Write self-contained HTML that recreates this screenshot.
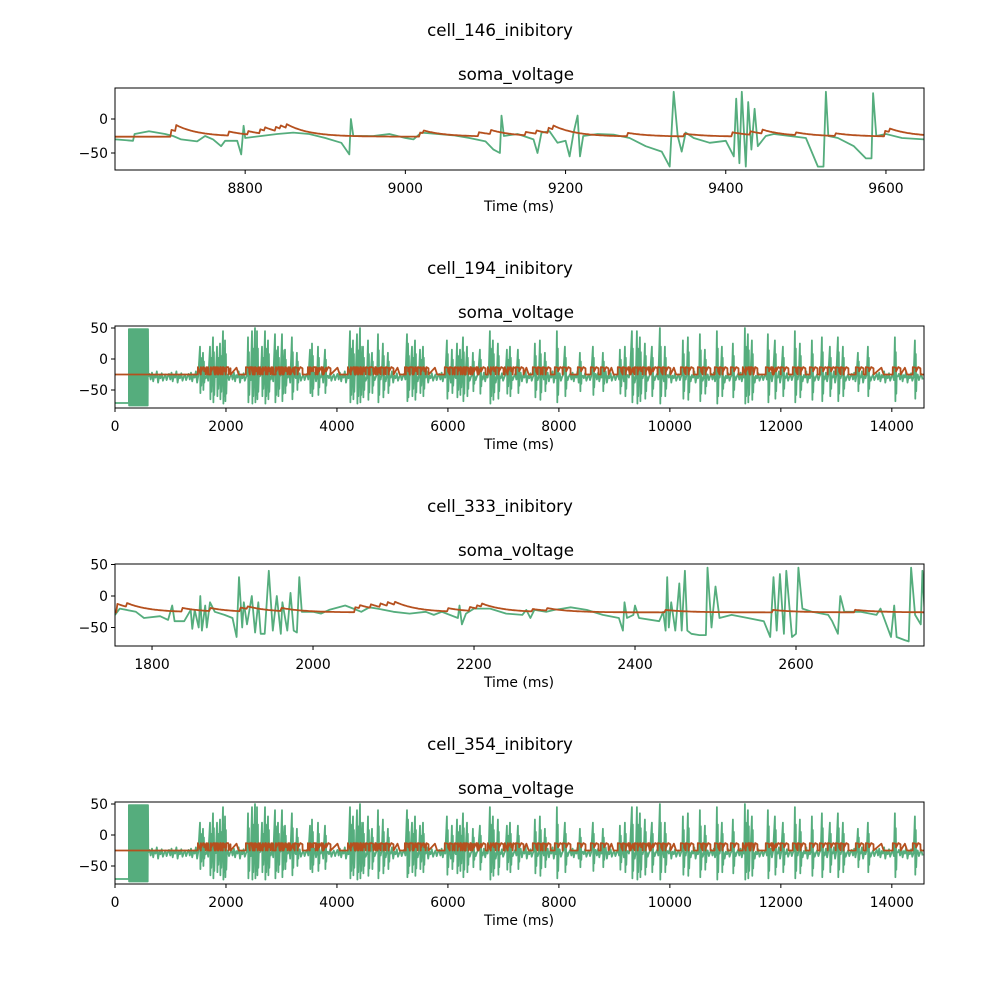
<!DOCTYPE html>
<html><head><meta charset="utf-8"><style>
body{margin:0;background:#fff}
svg{display:block}
text{font-family:"DejaVu Sans","Liberation Sans",sans-serif;fill:#000}
</style></head><body>
<svg id="fig" width="1000" height="1000" viewBox="0 0 1000 1000" xmlns="http://www.w3.org/2000/svg"></svg>
<script>
// ---------- DATA ----------
const p1GreenT=[8638,8660,8662,8680,8700,8710,8720,8740,8750,8760,8770,8775,8790,8795,8798,8800,8820,8840,8860,8880,8900,8920,8930,8932,8935,8960,8980,9000,9010,9020,9040,9060,9080,9100,9110,9118,9120,9123,9140,9160,9165,9170,9180,9190,9200,9205,9210,9215,9218,9222,9240,9260,9280,9300,9320,9330,9335,9340,9345,9350,9360,9380,9400,9410,9413,9417,9420,9425,9428,9432,9436,9440,9450,9460,9480,9500,9515,9522,9525,9528,9540,9560,9575,9582,9584,9588,9600,9620,9648];
const p1GreenV=[-30,-32,-22,-18,-22,-25,-30,-33,-25,-30,-40,-32,-32,-52,-10,-28,-25,-22,-20,-22,-28,-35,-52,0,-25,-25,-22,-28,-30,-20,-22,-24,-28,-33,-45,-50,5,-25,-22,-30,-50,-20,-18,-35,-32,-55,-20,5,-55,-25,-22,-23,-28,-40,-48,-70,40,-25,-48,-20,-28,-35,-32,-55,30,-65,40,-70,25,-45,15,-40,-25,-22,-25,-28,-70,-70,40,-25,-28,-40,-58,-58,38,-25,-22,-28,-30];
const p1RedT=[8708,8714,8780,8804,8819,8825,8838,8844,8851,9018,9023,9091,9107,9150,9163,9178,9184,9278,9348,9408,9431,9445,9488,9537,9599,9605];
const p1RedA=[10,9,6,5,6,5,6,5,6,6,4,6,6,5,5,8,6,5,4,6,5,6,4,4,8,5];
const p3GreenT=[1754,1760,1780,1790,1810,1820,1825,1828,1840,1848,1850,1853,1858,1860,1862,1866,1868,1872,1878,1890,1900,1905,1908,1912,1914,1918,1924,1928,1932,1935,1940,1945,1950,1955,1960,1962,1968,1972,1976,1980,1983,1986,2000,2010,2020,2040,2050,2060,2070,2080,2100,2120,2140,2150,2160,2180,2182,2185,2190,2200,2220,2240,2260,2265,2270,2275,2290,2300,2310,2320,2340,2360,2380,2385,2387,2390,2398,2400,2405,2430,2435,2438,2440,2442,2445,2450,2455,2458,2462,2465,2470,2480,2488,2490,2495,2500,2505,2520,2540,2560,2568,2572,2576,2580,2585,2588,2595,2600,2603,2608,2620,2640,2645,2652,2655,2660,2680,2700,2705,2718,2722,2725,2735,2740,2743,2748,2755,2757,2760];
const p3GreenV=[-30,-20,-25,-35,-32,-38,-15,-40,-40,-22,-52,-22,-50,0,-55,-15,-50,-10,-25,-30,-35,-65,30,-50,-10,-45,0,-58,-10,-60,-60,40,-55,0,-60,-10,-55,5,-55,-58,30,-25,-25,-28,-22,-15,-20,-25,-18,-20,-25,-28,-25,-30,-25,-35,-15,-45,-28,-20,-20,-28,-30,-22,-35,-22,-25,-22,-20,-18,-22,-30,-35,-55,-10,-35,-30,-15,-35,-40,-25,-55,30,-50,-10,-55,20,-55,40,-55,-60,-62,-62,45,-50,15,-35,-30,-35,-40,-65,30,-55,35,-60,40,-65,-60,45,-20,-25,-30,-40,-60,0,-25,-25,-30,-20,-65,-15,-65,-70,-72,45,-30,-45,40,-30];
const p3RedT=[1756,1769,1837,1872,1909,1919,1961,2052,2058,2071,2083,2093,2102,2168,2195,2204,2210,2272,2291,2437,2571,2673];
const p3RedA=[14,6,6,5,6,4,5,8,5,6,6,6,5,5,6,5,5,4,4,4,4,4];
const spikeT=[1532,1586,1712,1766,1838,1892,1946,1982,2397,2469,2523,2559,2649,2703,2757,2883,2937,3009,3063,3189,3279,3514,3550,3658,3784,4235,4289,4361,4415,4469,4559,4631,4739,4829,4919,5262,5280,5352,5406,5496,5550,5982,6072,6163,6217,6271,6343,6451,6577,6757,6811,6901,7063,7118,7262,7568,7658,7748,7964,8109,8379,8613,8793,9100,9190,9316,9406,9460,9550,9676,9820,9910,10235,10325,10541,10631,10847,10937,11136,11352,11406,11478,11767,11893,12037,12253,12343,12560,12740,12884,13028,13118,13389,13569,14056,14416];
const spikePeak=[20,10,20,35,20,25,45,30,35,45,50,45,20,45,30,40,20,40,15,35,10,15,25,20,15,45,30,40,50,20,30,10,40,25,10,40,25,20,30,15,20,30,15,25,15,35,20,10,15,45,30,25,15,20,15,25,30,10,45,20,10,20,10,15,20,45,45,35,25,20,50,20,30,35,40,15,45,20,25,50,40,30,40,30,20,45,25,30,35,20,35,20,10,20,35,30];
const spikeTrough=[-55,-50,-65,-70,-60,-65,-72,-68,-70,-72,-70,-65,-60,-72,-65,-70,-60,-68,-55,-65,-50,-55,-60,-58,-55,-70,-65,-72,-70,-62,-66,-55,-70,-62,-55,-68,-62,-60,-66,-55,-60,-64,-55,-62,-58,-68,-60,-52,-56,-72,-66,-64,-56,-60,-55,-62,-66,-52,-70,-60,-52,-58,-52,-56,-60,-70,-72,-68,-64,-60,-72,-60,-64,-66,-68,-56,-72,-60,-62,-72,-70,-66,-70,-64,-60,-70,-62,-66,-68,-60,-68,-60,-52,-60,-68,-64];
const noiseV=[-28,-24,-33,-22,-36,-26,-30,-20,-38,-27,-31,-23,-35,-29,-25,-34];
const blockRange=[250,595];
const blockV=[48,-75];
const prePlateauV=-71;
const restV=-25;
const ticks1=[8800,9000,9200,9400,9600];
const ticks2=[0,2000,4000,6000,8000,10000,12000,14000];
const ticks3=[1800,2000,2200,2400,2600];
const yTicks=[0,-50];
const yTicks2=[50,0,-50];

// ---------- DRAWING ----------
const NS="http://www.w3.org/2000/svg";
const fig=document.getElementById('fig');
const GREEN="#55ad7d", RED="#b5501e";
function mk(tag,attrs,parent){const e=document.createElementNS(NS,tag);for(const k in attrs)e.setAttribute(k,attrs[k]);(parent||fig).appendChild(e);return e;}
function txt(s,x,y,size,anchor,parent){const t=mk('text',{x:x,y:y,'font-size':size,'text-anchor':anchor||'middle'},parent);t.textContent=s;return t;}

const panels=[
 {title:'cell_146_inibitory',top:88,x0:8637.5,x1:9647.5,yZero:119,yK:0.68,xt:ticks1,yt:yTicks,kind:'trace',gt:p1GreenT,gv:p1GreenV,rt:p1RedT,ra:p1RedA,tau:28},
 {title:'cell_194_inibitory',top:326,x0:0,x1:14580,yZero:359,yK:0.62,xt:ticks2,yt:yTicks2,kind:'spikes'},
 {title:'cell_333_inibitory',top:564,x0:1754,x1:2759,yZero:596,yK:0.63,xt:ticks3,yt:yTicks2,kind:'trace',gt:p3GreenT,gv:p3GreenV,rt:p3RedT,ra:p3RedA,tau:28},
 {title:'cell_354_inibitory',top:802,x0:0,x1:14580,yZero:835,yK:0.62,xt:ticks2,yt:yTicks2,kind:'spikes'}
];
const L=115,R=924,H=82;

panels.forEach((p,i)=>{
  const g=mk('g',{});
  
  
  const xs=t=>L+(t-p.x0)/(p.x1-p.x0)*(R-L);
  const ys=v=>p.yZero-v*p.yK;
  const st=txt(p.title,500,p.top-52,16.7,'middle',g);
  
  
  const at=txt('soma_voltage',516,p.top-8,16.7,'middle',g);
  
  
  const cp=mk('clipPath',{id:'cp'+i},g);
  mk('rect',{x:L,y:p.top,width:R-L,height:H},cp);
  const plot=mk('g',{'clip-path':'url(#cp'+i+')'},g);
  let pts=[];
  if(p.kind==='trace'){
    for(let k=0;k<p.gt.length;k++)pts.push([p.gt[k],p.gv[k]]);
  }else{
    pts.push([0,prePlateauV],[blockRange[0],prePlateauV]);
    for(let t=blockRange[0],k=0;t<=blockRange[1];t+=4,k++){ if(t>370&&t<385)continue; pts.push([t,blockV[k%2]]);}
    let tt=600,n=0;
    for(let s=0;s<=spikeT.length;s++){
      const lim=s<spikeT.length?spikeT[s]:p.x1;
      while(tt<lim-10){pts.push([tt,noiseV[n%noiseV.length]]);n++;tt+=22;}
      if(s<spikeT.length){
        const t=spikeT[s];
        pts.push([t,spikePeak[s]],[t+8,spikeTrough[s]],[t+16,spikePeak[s]*0.6-10],[t+24,spikeTrough[s]+12],[t+32,-28]);
        tt=t+50;
      }
    }
  }
  const gl=mk('polyline',{points:pts.map(q=>xs(q[0]).toFixed(1)+','+ys(q[1]).toFixed(1)).join(' '),fill:'none',stroke:GREEN,'stroke-width':1.8,'stroke-linejoin':'round'},plot);
  
  
  let rp=[];
  if(p.kind==='trace'){
    for(let t=p.x0;t<=p.x1;t+=1.5){
      let v=restV-1;
      for(let k=0;k<p.rt.length;k++){if(p.rt[k]<=t)v+=p.ra[k]*Math.exp(-(t-p.rt[k])/p.tau);}
      rp.push([t,v]);
    }
  }else{
    rp.push([0,restV],[600,restV]);
    for(let s=0;s<spikeT.length;s++){
      const t=spikeT[s];
      rp.push([t-40,restV],[t-38,-13],[t+20,-14],[t+22,-20],[t+60,-13],[t+100,-15],[t+102,restV]);
      if(s+1<spikeT.length&&spikeT[s+1]-t>300)rp.push([(t+spikeT[s+1])/2,-14],[(t+spikeT[s+1])/2+40,restV]);
    }
    rp.push([p.x1,restV]);
    rp.sort((a,b)=>a[0]-b[0]);
  }
  const rl=mk('polyline',{points:rp.map(q=>xs(q[0]).toFixed(1)+','+ys(q[1]).toFixed(1)).join(' '),fill:'none',stroke:RED,'stroke-width':1.8,'stroke-linejoin':'round'},plot);
  
  
  const fr=mk('rect',{x:L,y:p.top,width:R-L,height:H,fill:'none',stroke:'#000','stroke-width':1},g);
  
  
  p.xt.forEach(v=>{
    const x=xs(v);
    mk('line',{x1:x,x2:x,y1:p.top+H,y2:p.top+H+4,stroke:'#000','stroke-width':1},g);
    const tl=txt(String(v),x,p.top+H+23,13.9,'middle',g);
    
    
  });
  p.yt.forEach(v=>{
    const y=ys(v);
    mk('line',{x1:L-4,x2:L,y1:y,y2:y,stroke:'#000','stroke-width':1},g);
    const tl=txt(v<0?'\u2212'+(-v):String(v),L-7,y+5,13.9,'end',g);
    
    
  });
  const xl=txt('Time (ms)',519,p.top+H+41,13.9,'middle',g);
  
  
});
</script>
</body></html>
